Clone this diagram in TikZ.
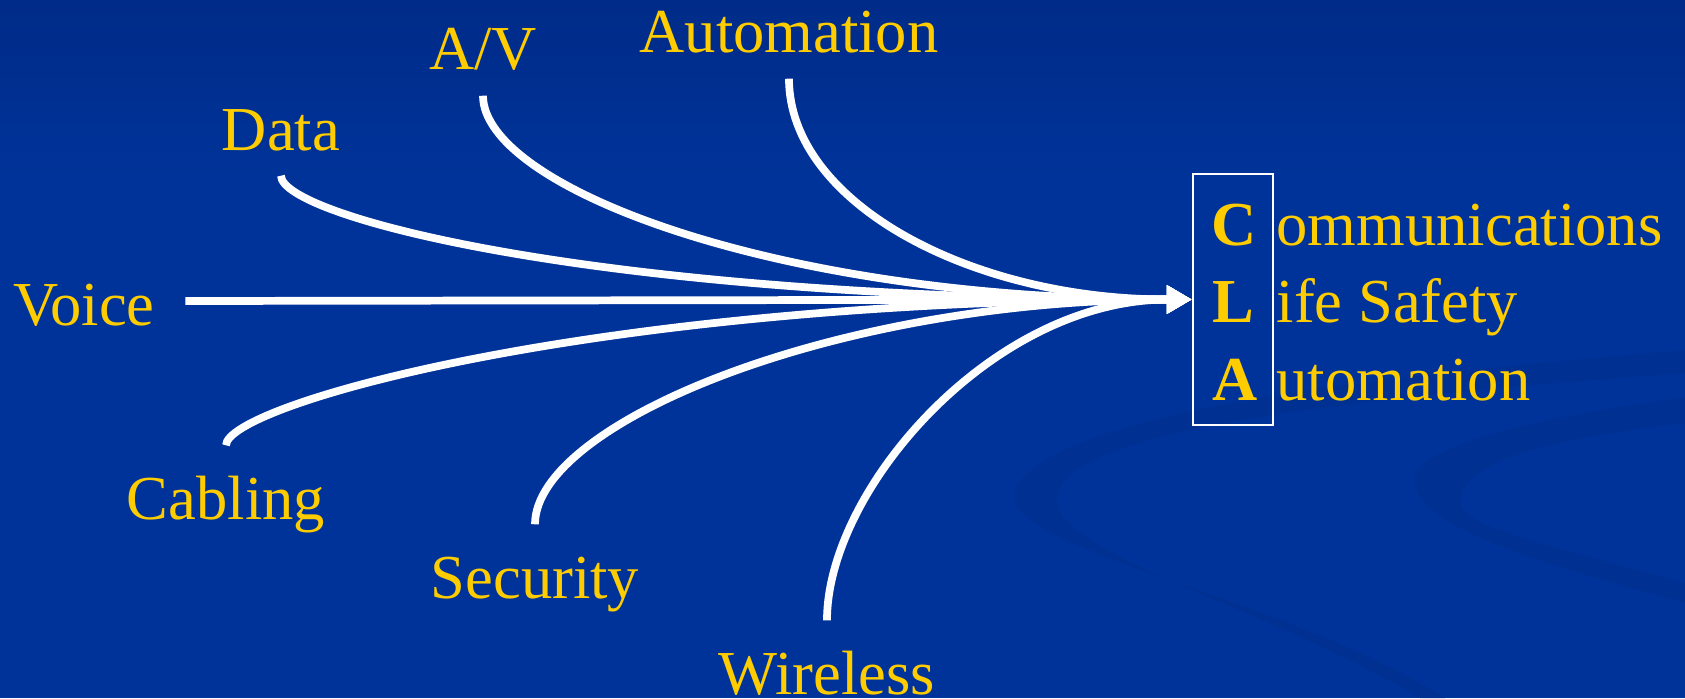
\documentclass[tikz,border=0pt]{standalone}
\usepackage{fontspec}
\setmainfont{Liberation Serif}
\usetikzlibrary{arrows.meta}
\definecolor{slideBlue}{RGB}{0,51,153}
\definecolor{slideTop}{RGB}{0,43,136}
\definecolor{swoosh}{RGB}{0,48,146}
\definecolor{slideGold}{RGB}{255,204,0}
\tikzset{clapanel/.style={
  font=\fontsize{17.8}{21}\selectfont,
  topic/.style={text=slideGold, anchor=base, text height=0.6cm, text depth=0.12cm, inner xsep=0.3cm, inner ysep=0.13cm},
  feed/.style={draw=white, line width=2.2pt, -{Triangle[length=2.5mm, width=2.7mm]}},
}}

\begin{document}
\begin{tikzpicture}[clapanel,
  frame/.style={draw=white, line width=0.7pt, minimum width=0.8cm, minimum height=2.51cm, inner sep=0pt},
  initial/.style={text=slideGold, font=\fontsize{17.8}{21}\selectfont\bfseries, anchor=base, inner sep=0pt},
  word/.style={text=slideGold, anchor=base west, inner sep=0pt},
]

% ---- slide background ----
\useasboundingbox (0,0) rectangle (16.85,6.98);
\fill[slideBlue] (0,0) rectangle (16.85,6.98);
\shade[top color=slideTop, bottom color=slideBlue] (0,5.2) rectangle (16.85,6.98);

% ---- faint swooshes of the template ----
\fill[swoosh] (16.85,3.48) .. controls (13.5,3.2) and (10.6,2.85) .. (10.15,2.1)
  .. controls (9.9,1.5) and (12.8,1.05) .. (14.45,0)
  -- (14.2,0) .. controls (12.5,1.0) and (10.3,1.5) .. (10.6,2.1)
  .. controls (10.9,2.7) and (13.5,3.0) .. (16.85,3.25) -- cycle;
\fill[swoosh] (16.85,3.01) .. controls (15.0,2.75) and (14.0,2.45) .. (14.15,2.1)
  .. controls (14.3,1.65) and (15.6,1.3) .. (16.85,0.95)
  -- (16.85,1.15) .. controls (15.8,1.45) and (14.6,1.7) .. (14.61,1.95)
  .. controls (14.6,2.4) and (15.6,2.6) .. (16.85,2.75) -- cycle;

% ---- the seven systems ----
\node[topic] (auto)  at (7.89,6.45) {Automation};
\node[topic] (av)    at (4.83,6.28) {A/V};
\node[topic] (data)  at (2.81,5.48) {Data};
\node[topic] (voice) at (0.84,3.73) {Voice};
\node[topic] (cabl)  at (2.26,1.79) {Cabling};
\node[topic] (secu)  at (5.35,1.00) {Security};
\node[topic] (wless) at (8.27,0.04) {Wireless};

% ---- CLA box ----
\node[frame] (cla) at (12.33,3.985) {};
\node[initial] (ic) at (12.34,4.52) {C};
\node[initial] (il) at (12.33,3.75) {L};
\node[initial] (ia) at (12.35,2.98) {A};
\node[word] (wc) at (12.76,4.52) {ommunications};
\node[word] (wl) at (12.76,3.75) {ife Safety};
\node[word] (wa) at (12.76,2.98) {utomation};

% ---- everything runs into the box ----
\draw[feed] (voice.east) -- (cla.west);
\draw[feed] (data.south) .. controls +(0,-0.4) and +(-6,0) .. (cla.west);
\draw[feed] (av.south) .. controls +(0,-0.9) and +(-4.2,0) .. (cla.west);
\draw[feed] (auto.south) .. controls +(0,-1.23) and +(-2.23,0) .. (cla.west);
\draw[feed] (cabl.north) .. controls +(0,0.4) and +(-6,0) .. (cla.west);
\draw[feed] (secu.north) .. controls +(0,1.0) and +(-3.6,0) .. (cla.west);
\draw[feed] (wless.north) .. controls +(0,1.3) and +(-2.0,0) .. (cla.west);

\end{tikzpicture}
\end{document}
